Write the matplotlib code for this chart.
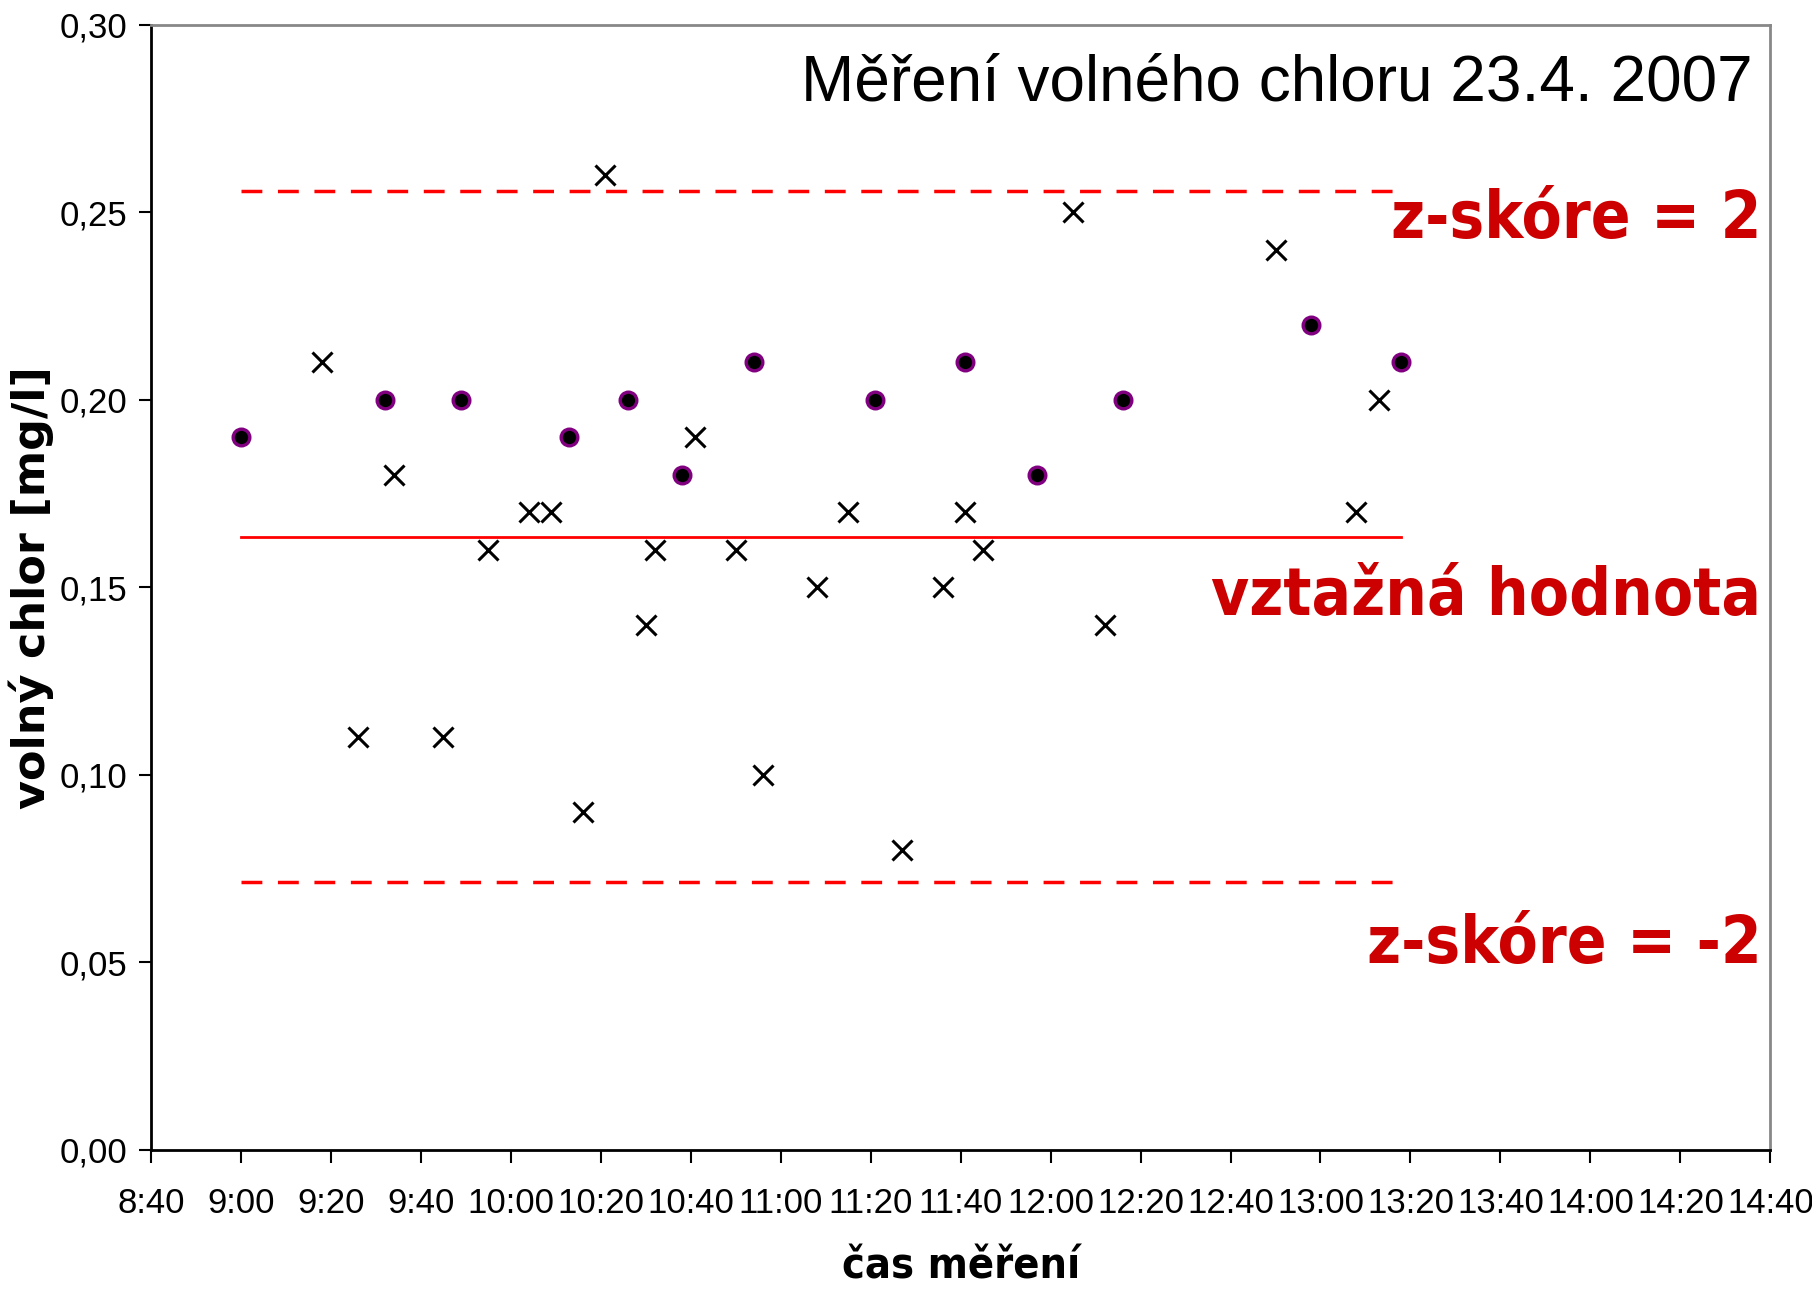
import numpy as np
import matplotlib
matplotlib.use("Agg")
import matplotlib.pyplot as plt
from matplotlib.ticker import FuncFormatter, MultipleLocator

# -- data: time of measurement (h:mm) and free chlorine [mg/l] -- #
dot_times = ["9:00", "9:32", "9:49", "10:13", "10:26", "10:38", "10:54",
             "11:21", "11:41", "11:57", "12:16", "12:58", "13:18"]
dot_vals = [0.19, 0.20, 0.20, 0.19, 0.20, 0.18, 0.21,
            0.20, 0.21, 0.18, 0.20, 0.22, 0.21]

cross_times = ["9:18", "9:26", "9:34", "9:45", "9:55", "10:04", "10:09", "10:16",
               "10:21", "10:30", "10:32", "10:41", "10:50", "10:56", "11:08", "11:15",
               "11:27", "11:36", "11:41", "11:45", "12:05", "12:12", "12:50", "13:08",
               "13:13"]
cross_vals = [0.21, 0.11, 0.18, 0.11, 0.16, 0.17, 0.17, 0.09,
              0.26, 0.14, 0.16, 0.19, 0.16, 0.10, 0.15, 0.17,
              0.08, 0.15, 0.17, 0.16, 0.25, 0.14, 0.24, 0.17,
              0.20]

line_times = ["9:00", "13:18"]
ref_value = 0.1635
z_upper = 0.2558
z_lower = 0.0715


def to_min(t):
    h, m = t.split(":")
    return int(h) * 60 + int(m)


def fmt_time(v, pos):
    v = int(round(v))
    return "%d:%02d" % (v // 60, v % 60)


dx = [to_min(t) for t in dot_times]
cx = [to_min(t) for t in cross_times]
lx = [to_min(t) for t in line_times]

fig = plt.figure(figsize=(18.12, 12.95), dpi=100)
ax = fig.add_axes([0.0833, 0.112, 0.8937, 0.8687])

# reference lines
ax.plot(lx, [ref_value, ref_value], color="#FF0000", lw=2)
ax.plot(lx, [z_upper, z_upper], color="#FF0000", lw=2.5, dashes=(6, 4.5))
ax.plot(lx, [z_lower, z_lower], color="#FF0000", lw=2.5, dashes=(6, 4.5))

# measurements
ax.plot(cx, cross_vals, ls="none", marker="x", ms=14, mew=2.2, color="black")
ax.plot(dx, dot_vals, ls="none", marker="o", ms=12, mew=2.4,
        markerfacecolor="black", markeredgecolor="#800080")

ax.set_xlim(to_min("8:40"), to_min("14:40"))
ax.set_ylim(0, 0.30)
ax.xaxis.set_major_locator(MultipleLocator(20))
ax.xaxis.set_major_formatter(FuncFormatter(fmt_time))
ax.yaxis.set_major_locator(MultipleLocator(0.05))
ax.yaxis.set_major_formatter(FuncFormatter(lambda v, p: ("%.2f" % v).replace(".", ",")))

for lab in ax.get_xticklabels() + ax.get_yticklabels():
    lab.set_fontfamily("Liberation Sans")
    lab.set_fontsize(25)
ax.tick_params(axis="both", direction="out", length=9, width=1.5, colors="black", pad=18)
ax.tick_params(axis="y", pad=8)

ax.spines["top"].set_color("#888888")
ax.spines["right"].set_color("#888888")
for s in ax.spines.values():
    s.set_linewidth(2)

ax.set_xlabel("čas měření", fontsize=31, fontweight="bold", fontstretch="condensed",
              family="DejaVu Sans", labelpad=18)
ax.set_ylabel("volný chlor [mg/l]", fontsize=32, fontweight="bold",
              family="DejaVu Sans", labelpad=4)

ax.text(876, 0.2845, "Měření volného chloru 23.4. 2007", ha="right", va="center",
        fontsize=46, family="Liberation Sans")
red = "#CC0000"
ax.text(878, 0.248, "z-skóre = 2", ha="right", va="center", color=red,
        fontsize=47, fontweight="bold", family="DejaVu Sans", fontstretch="condensed")
ax.text(878, 0.1474, "vztažná hodnota", ha="right", va="center", color=red,
        fontsize=47, fontweight="bold", family="DejaVu Sans", fontstretch="condensed")
ax.text(878, 0.0546, "z-skóre = -2", ha="right", va="center", color=red,
        fontsize=47, fontweight="bold", family="DejaVu Sans", fontstretch="condensed")

plt.savefig("out.png", dpi=100)
